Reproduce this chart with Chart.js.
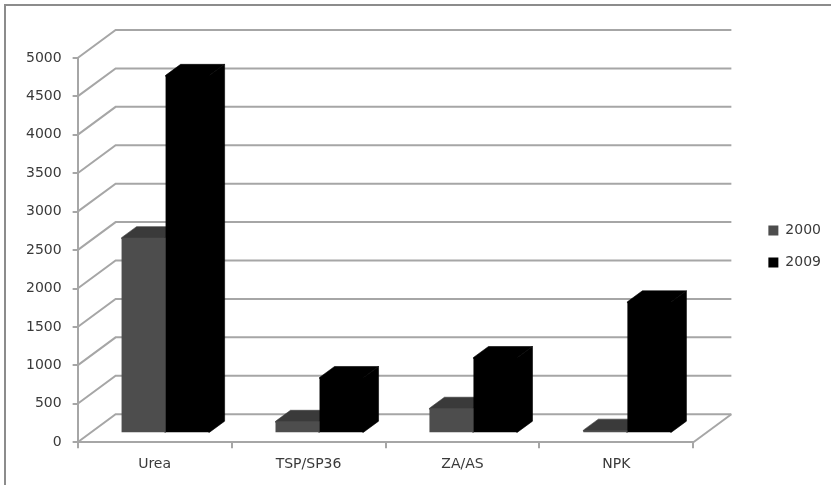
<!DOCTYPE html>
<html><head><meta charset="utf-8">
<style>html,body{margin:0;padding:0;background:#fff}#frame{position:absolute;left:4px;top:4px;width:827px;height:481px;border-left:2px solid #8c8c8c;border-top:2px solid #8c8c8c;box-sizing:border-box;filter:blur(0.4px)}canvas{position:absolute;left:0;top:0;filter:blur(0.5px)}</style>
<script src="https://cdn.jsdelivr.net/npm/chart.js@4"></script>
</head><body><div id="frame"></div><canvas id="c" width="831" height="485"></canvas>
<script>
const categories = ["Urea","TSP/SP36","ZA/AS","NPK"];
const values2000 = [2545,155,325,40];
const values2009 = [4657,725,985,1710];
const seriesNames = ["2000","2009"];
const yMax = 5000, yStep = 500;

const gridColor = "#a6a6a6";
const textColor = "#3a3a3a";
const wall = {dx:38, dy:-28};
const barShift = {dx:11, dy:-9};
const barDepth = {dx:15, dy:-11};
const faces = [
  {front:"#4d4d4d", top:"#3a3a3a", side:"#2e2e2e"},
  {front:"#000000", top:"#000000", side:"#000000"}
];
const legendShift = {dx:57, dy:-23};

function poly(ctx, pts, color){
  ctx.beginPath();
  pts.forEach((p,i)=> i ? ctx.lineTo(p[0],p[1]) : ctx.moveTo(p[0],p[1]));
  ctx.closePath(); ctx.fillStyle=color; ctx.strokeStyle=color; ctx.lineWidth=0.6; ctx.fill(); ctx.stroke();
}
const threeD = {
  id:"threeD",
  afterLayout(chart){
    const l = chart.legend;
    l.left += legendShift.dx; l.right += legendShift.dx;
    l.top += legendShift.dy; l.bottom += legendShift.dy;
  },
  beforeDatasetsDraw(chart){
    const {ctx, scales:{x,y}, chartArea:a} = chart;
    ctx.save();
    ctx.strokeStyle = gridColor; ctx.lineWidth = 2;
    y.ticks.forEach((t,i)=>{
      const py = y.getPixelForTick(i);
      ctx.beginPath();
      ctx.moveTo(a.left,py);
      ctx.lineTo(a.left+wall.dx,py+wall.dy);
      ctx.lineTo(a.right+wall.dx,py+wall.dy);
      ctx.stroke();
    });
    ctx.beginPath();
    ctx.moveTo(a.right,a.bottom);
    ctx.lineTo(a.right+wall.dx,a.bottom+wall.dy);
    ctx.stroke();
    ctx.translate(barShift.dx,barShift.dy);
    [0,1].forEach(k=>{
      const f = faces[k];
      chart.getDatasetMeta(k).data.forEach(b=>{
        const l=b.x-b.width/2, r=b.x+b.width/2, t=b.y, bt=b.base;
        const dx=barDepth.dx, dy=barDepth.dy;
        poly(ctx,[[l,t+1],[l,t],[l+dx,t+dy],[r+dx,t+dy],[r,t],[r,t+1]],f.top);
        poly(ctx,[[r-1,t],[r,t],[r+dx,t+dy],[r+dx,bt+dy],[r,bt],[r-1,bt]],f.side);
      });
    });
    ctx.restore();
  },
  beforeDatasetDraw(chart){
    chart.ctx.save();
    chart.ctx.translate(barShift.dx,barShift.dy);
  },
  afterDatasetDraw(chart){ chart.ctx.restore(); }
};

new Chart(document.getElementById("c"),{
  type:"bar",
  data:{labels:categories,datasets:[
    {label:seriesNames[0],data:values2000,backgroundColor:faces[0].front,categoryPercentage:0.572,barPercentage:1},
    {label:seriesNames[1],data:values2009,backgroundColor:faces[1].front,categoryPercentage:0.572,barPercentage:1}
  ]},
  options:{
    responsive:false,animation:false,
    layout:{padding:{left:15,top:58,right:57,bottom:4}},
    plugins:{
      title:{display:false},tooltip:{enabled:false},
      legend:{position:"right",labels:{boxWidth:10,boxHeight:10,padding:18,color:textColor,font:{family:"'DejaVu Sans'",size:14}}}
    },
    scales:{
      x:{grid:{offset:true,drawOnChartArea:false,color:gridColor,lineWidth:2,tickLength:6},border:{color:gridColor,width:2},
         ticks:{color:textColor,font:{family:"'DejaVu Sans'",size:14},padding:8}},
      y:{min:0,max:yMax,grid:{drawOnChartArea:false,color:gridColor,lineWidth:2,tickLength:5},border:{color:gridColor,width:2},
         ticks:{stepSize:yStep,color:textColor,font:{family:"'DejaVu Sans'",size:14},padding:11,callback:v=>String(v)}}
    }
  },
  plugins:[threeD]
});
</script></body></html>
